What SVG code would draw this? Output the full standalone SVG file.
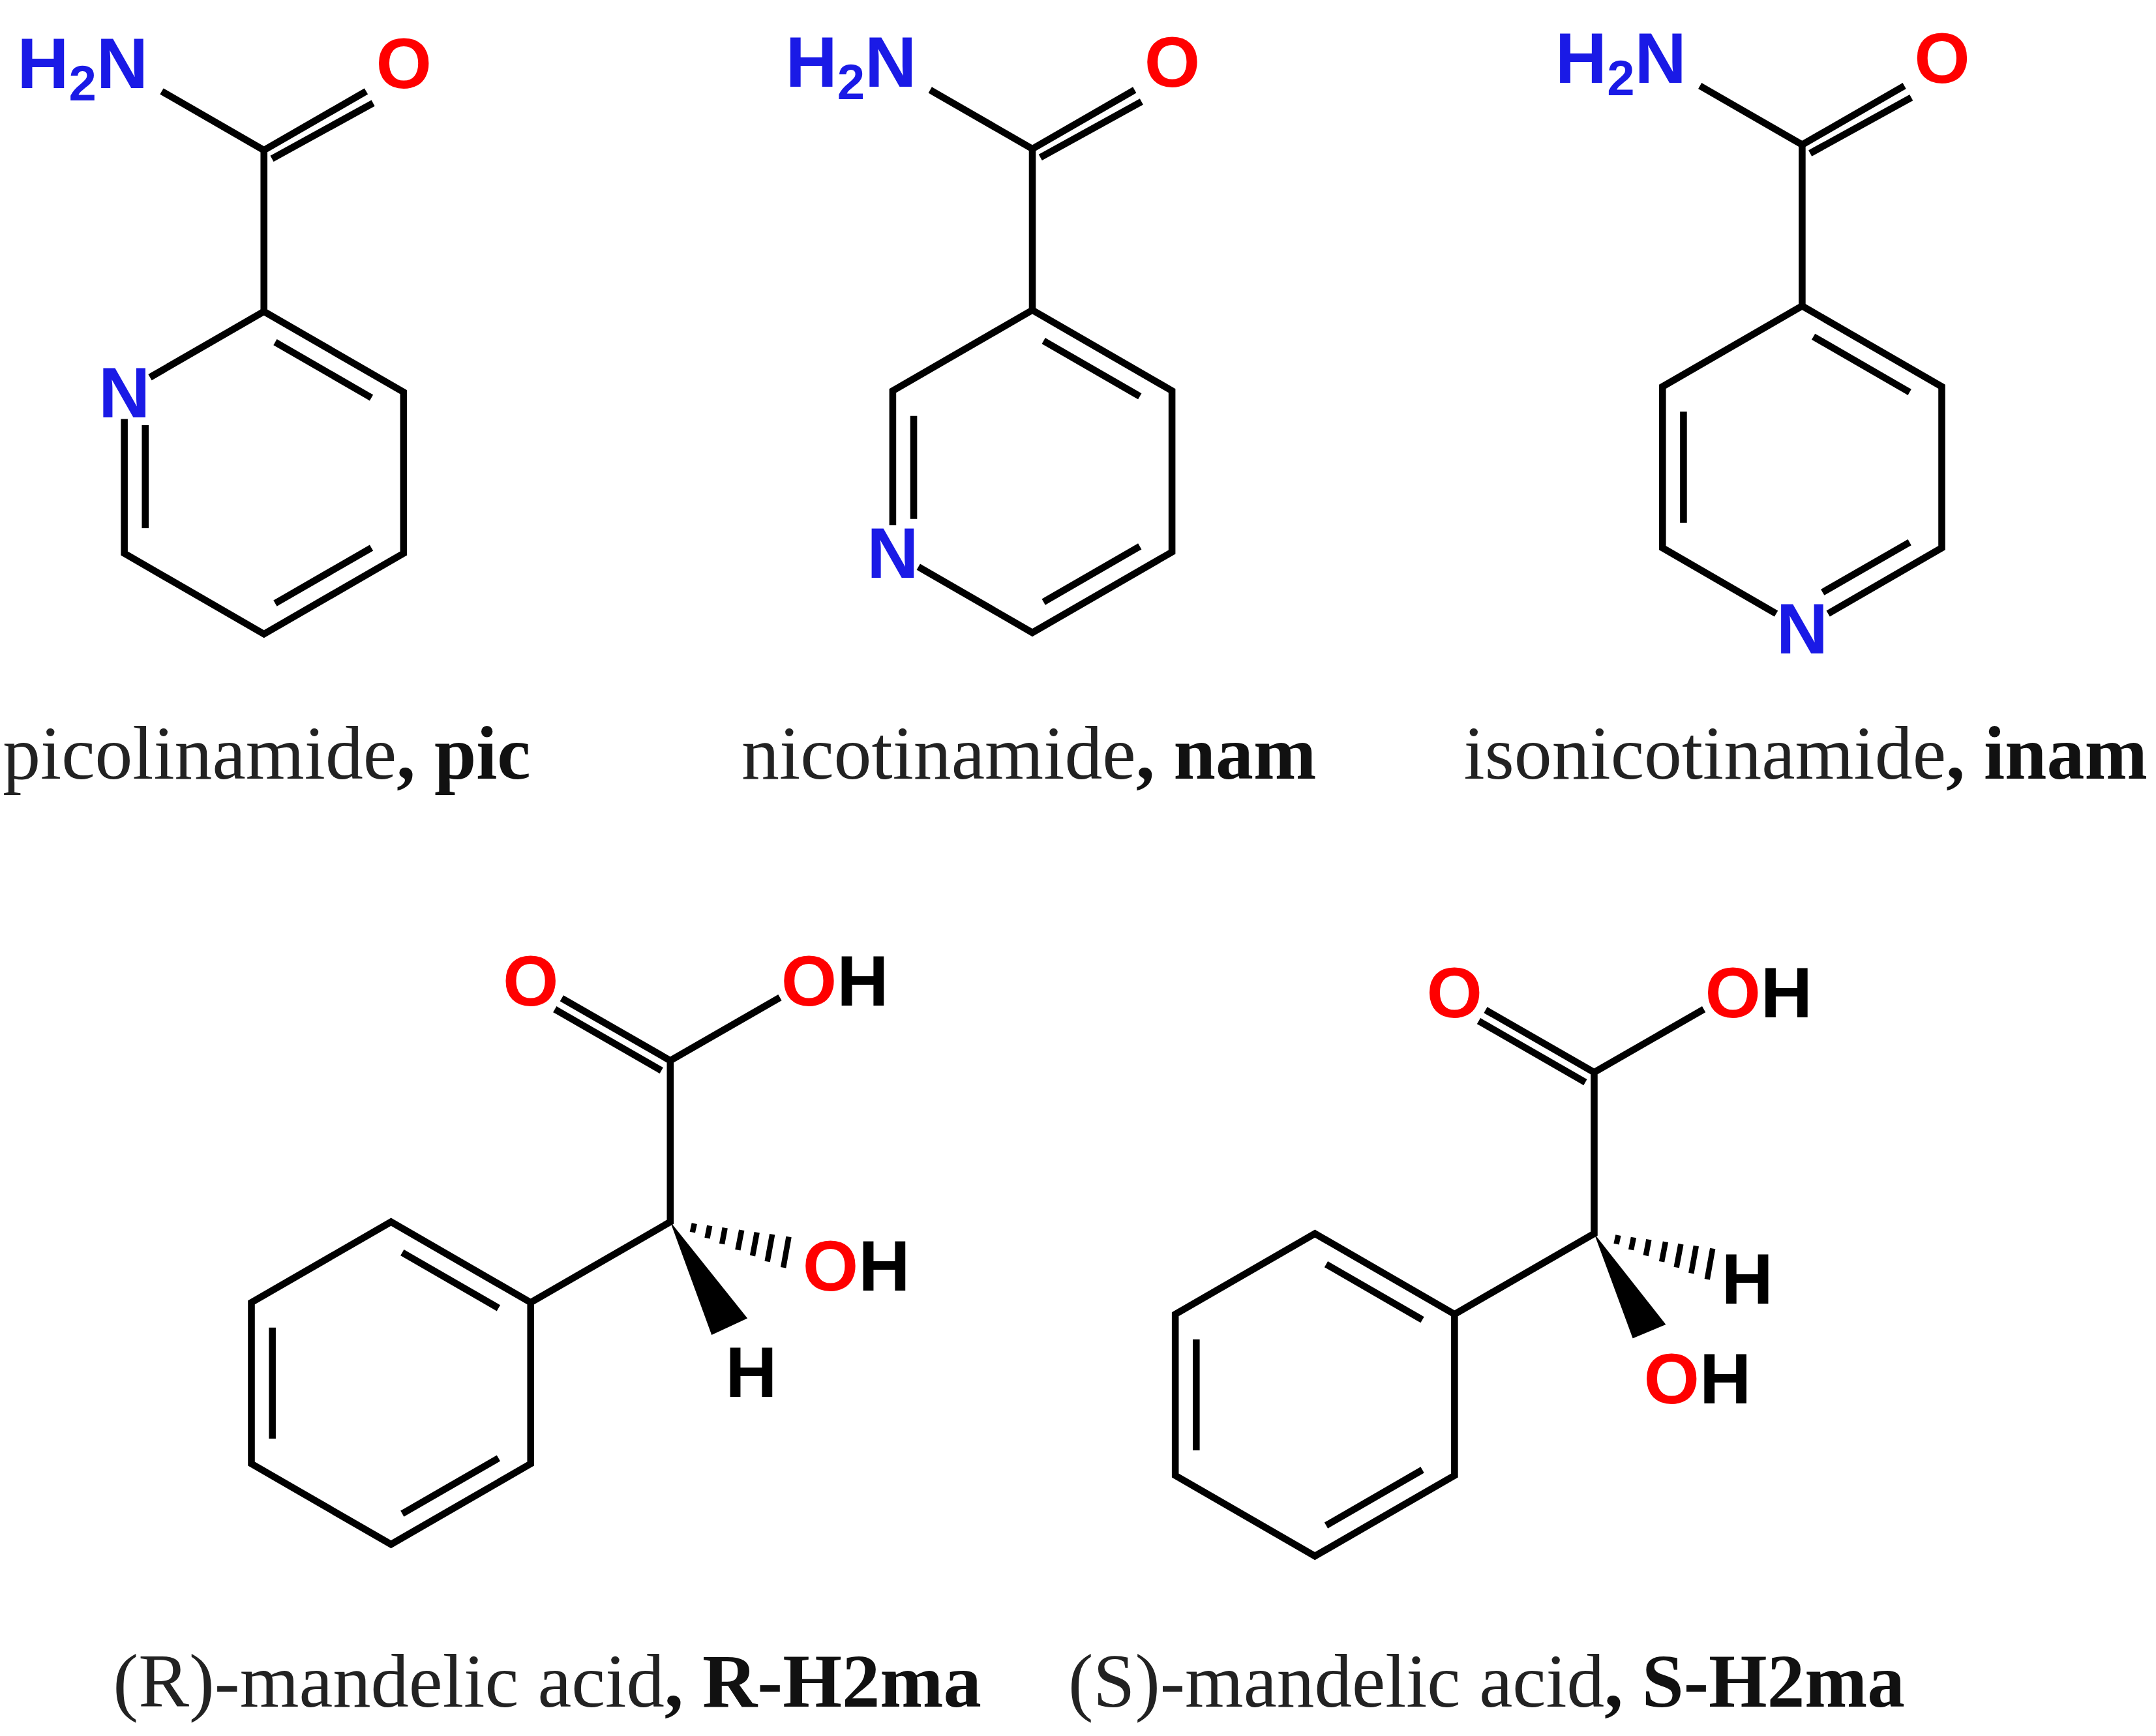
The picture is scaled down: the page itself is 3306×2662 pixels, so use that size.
<svg xmlns="http://www.w3.org/2000/svg" width="3306" height="2662" viewBox="0 0 3306 2662">
<style>
.b{fill:none;stroke:#000;stroke-width:5;stroke-linecap:square}
.lb{font-family:"Liberation Sans",Arial,sans-serif;font-weight:bold;font-size:52px}
.bl{fill:#1a1ae6}.rd{fill:#ff0000}.bk{fill:#000}
.cap{font-family:"Liberation Serif","Times New Roman",serif;font-size:55px;fill:#222}
.bo{font-weight:bold;fill:#111}
</style>
<defs>
<path id="amide" class="b" d="M0,-117 L0,-234 L-72,-275.5 M0,-234 L72,-275.5 M8,-229 L77,-267"/>
<path id="hash" class="b" style="stroke-width:4;stroke-linecap:butt" d="M17.5,1.2L16.1,7.6M28.6,2.8L26.8,11.8M39.7,4.3L37.5,16M51.8,6L49,20.4M62.9,7.6L59.7,24.6M74,9L70.4,28.8M86,10.8L82,33.2"/>
<g id="phacid">
<path class="b" d="M0,-117 L101.3,-58.5 L101.3,58.5 L0,117 L-101.3,58.5 L-101.3,-58.5 Z M10.3,-93.5 L75.8,-55.7 M75.8,55.7 L10.3,93.5 M-86.1,37.8 L-86.1,-37.8 M101.3,-58.5 L202.6,-117 L202.6,-234 L126,-278 M194,-228 L121,-270 M202.6,-234 L280,-278.5"/>
<text class="lb rd" x="101.3" y="-274" text-anchor="middle">O</text>
<text class="lb" x="283" y="-274"><tspan class="rd">O</tspan><tspan class="bk">H</tspan></text>
</g>
</defs>
<rect width="3306" height="2662" fill="#fff"/>
<g transform="scale(2.1135)">
<g id="pic" transform="translate(191.5,343)">
<path class="b" d="M-80.5,-70.5 L0,-117 L101.3,-58.5 L101.3,58.5 L0,117 L-101.3,58.5 L-101.3,-36.5 M10.3,-93.5 L75.8,-55.7 M75.8,55.7 L10.3,93.5 M-86.1,37.8 L-86.1,-32"/>
<use href="#amide"/>
<text class="lb bl" x="-101.3" y="-40" text-anchor="middle">N</text>
<text class="lb bl" x="-84" y="-279" text-anchor="end">H<tspan font-size="36" dy="9">2</tspan><tspan dy="-9">N</tspan></text>
<text class="lb rd" x="101.5" y="-279" text-anchor="middle">O</text>
</g>
<g id="nam" transform="translate(749,342)">
<path class="b" d="M-101.3,36.5 L-101.3,-58.5 L0,-117 L101.3,-58.5 L101.3,58.5 L0,117 L-80.5,70.5 M10.3,-93.5 L75.8,-55.7 M75.8,55.7 L10.3,93.5 M-86.1,-37.8 L-86.1,32"/>
<use href="#amide"/>
<text class="lb bl" x="-101.3" y="77" text-anchor="middle">N</text>
<text class="lb bl" x="-84" y="-279" text-anchor="end">H<tspan font-size="36" dy="9">2</tspan><tspan dy="-9">N</tspan></text>
<text class="lb rd" x="101.5" y="-279" text-anchor="middle">O</text>
</g>
<g id="inam" transform="translate(1307.5,339)">
<path class="b" d="M21,105 L101.3,58.5 L101.3,-58.5 L0,-117 L-101.3,-58.5 L-101.3,58.5 L-21,105 M10.3,-93.5 L75.8,-55.7 M75.8,55.7 L17,89.5 M-86.1,37.8 L-86.1,-37.8"/>
<use href="#amide"/>
<text class="lb bl" x="0" y="135" text-anchor="middle">N</text>
<text class="lb bl" x="-84" y="-279" text-anchor="end">H<tspan font-size="36" dy="9">2</tspan><tspan dy="-9">N</tspan></text>
<text class="lb rd" x="101.5" y="-279" text-anchor="middle">O</text>
</g>
<g id="rma" transform="translate(283.7,1003.5)">
<use href="#phacid"/>
<g transform="translate(202.6,-117)">
<use href="#hash"/>
<polygon points="0,0 30,82 56,70" fill="#000"/>
<text class="lb" x="96" y="50"><tspan class="rd">O</tspan><tspan class="bk">H</tspan></text>
<text class="lb bk" x="58.7" y="127" text-anchor="middle">H</text>
</g>
</g>
<g id="sma" transform="translate(954,1012)">
<use href="#phacid"/>
<g transform="translate(202.6,-117)">
<use href="#hash"/>
<polygon points="0,0 28,76 52,66" fill="#000"/>
<text class="lb bk" x="111" y="51" text-anchor="middle">H</text>
<text class="lb" x="36" y="123"><tspan class="rd">O</tspan><tspan class="bk">H</tspan></text>
</g>
</g>
<g id="captions">
<text class="cap" x="2" y="565" textLength="383" lengthAdjust="spacingAndGlyphs">picolinamide<tspan class="bo">, pic</tspan></text>
<text class="cap" x="538" y="565" textLength="417" lengthAdjust="spacingAndGlyphs">nicotinamide<tspan class="bo">, nam</tspan></text>
<text class="cap" x="1062" y="565" textLength="496" lengthAdjust="spacingAndGlyphs">isonicotinamide<tspan class="bo">, inam</tspan></text>
<text class="cap" x="82" y="1238" textLength="630" lengthAdjust="spacingAndGlyphs">(R)-mandelic acid<tspan class="bo">, R-H2ma</tspan></text>
<text class="cap" x="775" y="1238" textLength="607" lengthAdjust="spacingAndGlyphs">(S)-mandelic acid<tspan class="bo">, S-H2ma</tspan></text>
</g>
</g>
</svg>
